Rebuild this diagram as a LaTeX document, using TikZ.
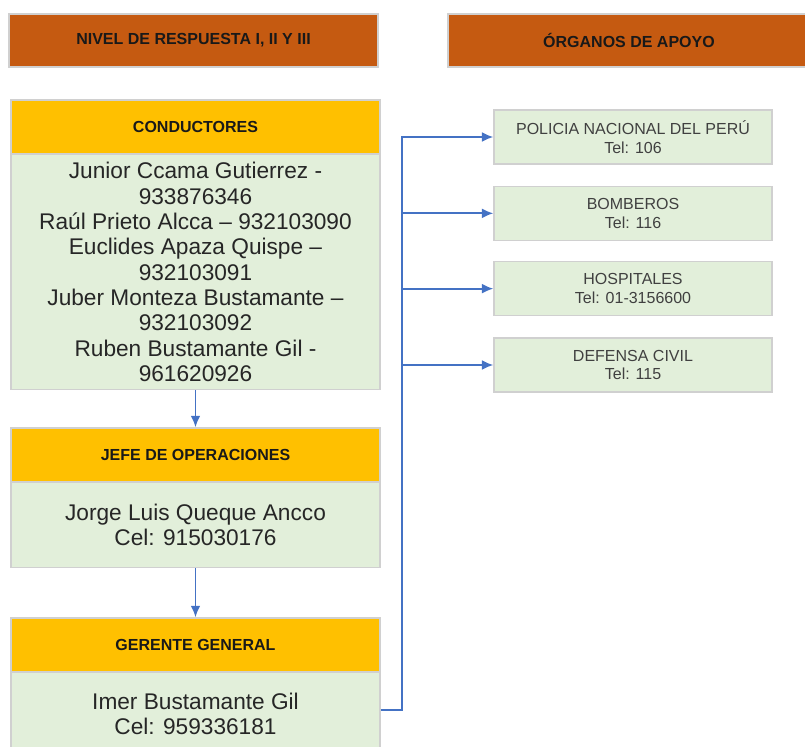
\documentclass[tikz,border=0pt]{standalone}
\usepackage{fontspec}
\setmainfont{Liberation Sans}
\usetikzlibrary{arrows.meta,positioning}

\definecolor{bandorange}{HTML}{C55A11}
\definecolor{headyellow}{HTML}{FFC000}
\definecolor{bodygreen}{HTML}{E2EFDA}
\definecolor{edgegray}{HTML}{D0D0D0}
\definecolor{linkblue}{HTML}{4472C4}

\begin{document}
\begin{tikzpicture}[
  x=0.75pt, y=-0.75pt,
  band/.style={draw=edgegray, line width=1pt, fill=bandorange, minimum height=39.75pt,
               inner sep=0pt, font=\fontsize{12}{14}\selectfont\bfseries, text=black!90},
  head/.style={draw=edgegray, line width=1pt, fill=headyellow, minimum width=276.75pt,
               minimum height=40pt, inner sep=0pt, font=\fontsize{12}{14}\selectfont\bfseries, text=black!90},
  body/.style={draw=edgegray, line width=1pt, fill=bodygreen, minimum width=276.75pt,
               align=center, inner sep=0pt, font=\fontsize{17}{19}\selectfont, text=black!85},
  aid/.style={draw=edgegray, line width=1pt, fill=bodygreen, minimum width=208.5pt,
              minimum height=40.5pt, align=center, inner sep=0pt,
              font=\fontsize{12}{14}\selectfont, text=black!75},
  flow/.style={-{Latex[length=3mm, width=2.6mm]}, linkblue, line width=1.3pt}
]
  \useasboundingbox (0,0) rectangle (805,746);

  % column titles
  \node[band, minimum width=276.75pt] (nivel) at (193.5,40.5) {NIVEL DE RESPUESTA I, II Y III};
  \node[band, minimum width=271.5pt] (organos) at (629,40.5) {ÓRGANOS DE APOYO};

  % response levels
  \node[head] (condh) at (195.5,126.5) {CONDUCTORES};
  \node[body, minimum height=176.25pt, below=0pt of condh] (condb)
    {Junior Ccama Gutierrez -\\933876346\\Raúl Prieto Alcca – 932103090\\
     Euclides Apaza Quispe –\\932103091\\Juber Monteza Bustamante –\\
     932103092\\Ruben Bustamante Gil -\\961620926};
  \node[head, below=27.75pt of condb] (jefeh) {JEFE DE OPERACIONES};
  \node[body, minimum height=63.75pt, below=0pt of jefeh] (jefeb)
    {Jorge Luis Queque Ancco\\Cel: 915030176};
  \node[head, below=36.75pt of jefeb] (gerh) {GERENTE GENERAL};
  \node[body, minimum height=62pt, below=0pt of gerh] (gerb)
    {Imer Bustamante Gil\\Cel: 959336181};

  % support bodies
  \node[aid] (policia) at (633,137) {POLICIA NACIONAL DEL PERÚ\\Tel: 106};
  \node[aid, below=15.75pt of policia] (bomberos) {BOMBEROS\\Tel: 116};
  \node[aid, below=15pt of bomberos] (hospital) {HOSPITALES\\Tel: 01-3156600};
  \node[aid, below=15.75pt of hospital] (defensa) {DEFENSA CIVIL\\Tel: 115};

  \coordinate (trunk) at (402,137);

  \draw[flow] (condb) -- (jefeh);
  \draw[flow] (jefeb) -- (gerh);
  \draw[flow] (gerb.east |- 0,710) -| (trunk) -- (policia.west);
  \draw[flow] (trunk |- bomberos.west) -- (bomberos.west);
  \draw[flow] (trunk |- hospital.west) -- (hospital.west);
  \draw[flow] (trunk |- defensa.west) -- (defensa.west);
\end{tikzpicture}
\end{document}
